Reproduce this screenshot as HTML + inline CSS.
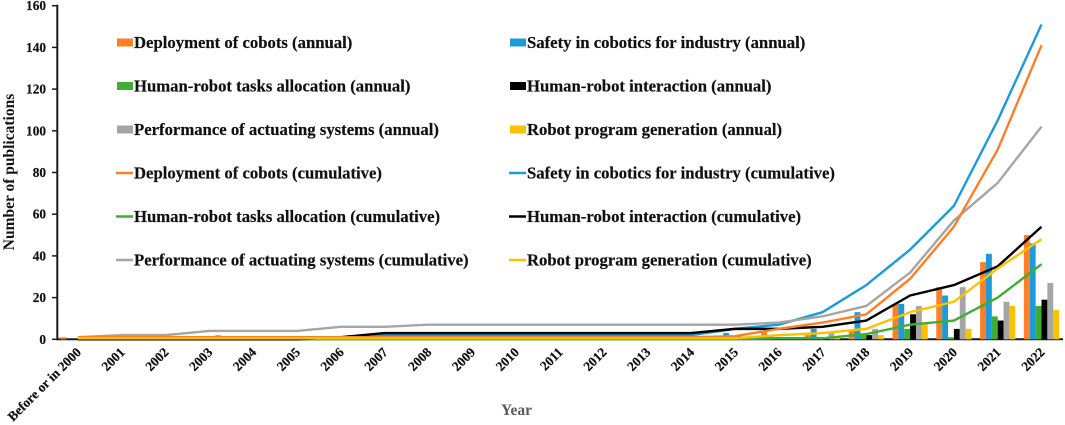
<!DOCTYPE html>
<html lang="en">
<head>
<meta charset="utf-8">
<title>Number of publications per year</title>
<style>
html,body{margin:0;padding:0;background:#fff;width:1065px;height:425px;overflow:hidden}
svg{display:block;filter:blur(0.3px)}
text{font-family:"Liberation Serif",serif;font-weight:bold;fill:#111}
.leg{font-size:16.7px;stroke:#111;stroke-width:.2px}
.tick{font-size:13.3px;stroke:#111;stroke-width:.2px}
</style>
</head>
<body>
<svg id="chart" width="1065" height="425" viewBox="0 0 1065 425" xmlns="http://www.w3.org/2000/svg">
<g id="axes"></g>
<g id="bars"></g>
<g id="lines"></g>
<text transform="translate(14,172) rotate(-90)" text-anchor="middle" style="font-size:15.5px">Number of publications</text>
<text x="516.5" y="415" text-anchor="middle" style="font-size:15.5px;fill:#595959">Year</text>

<g>
<g><rect x="117" y="38.5" width="16" height="8" fill="#FF7F27"/><text class="leg" x="134" y="48">Deployment of cobots (annual)</text></g>
<g><rect x="510" y="38.5" width="16" height="8" fill="#1C9BD8"/><text class="leg" x="527" y="48">Safety in cobotics for industry (annual)</text></g>
<g><rect x="117" y="82" width="16" height="8" fill="#3FAE35"/><text class="leg" x="134" y="91.5">Human-robot tasks allocation (annual)</text></g>
<g><rect x="510" y="82" width="16" height="8" fill="#000"/><text class="leg" x="527" y="91.5">Human-robot interaction (annual)</text></g>
<g><rect x="117" y="125.5" width="16" height="8" fill="#A5A5A5"/><text class="leg" x="134" y="135">Performance of actuating systems (annual)</text></g>
<g><rect x="510" y="125.5" width="16" height="8" fill="#FFC000"/><text class="leg" x="527" y="135">Robot program generation (annual)</text></g>
<g><line x1="116" x2="133" y1="173" y2="173" stroke="#FF7F27" stroke-width="2.4"/><text class="leg" x="134" y="178.5">Deployment of cobots (cumulative)</text></g>
<g><line x1="509" x2="526" y1="173" y2="173" stroke="#1C9BD8" stroke-width="2.4"/><text class="leg" x="527" y="178.5">Safety in cobotics for industry (cumulative)</text></g>
<g><line x1="116" x2="133" y1="216.5" y2="216.5" stroke="#3FAE35" stroke-width="2.4"/><text class="leg" x="134" y="222">Human-robot tasks allocation (cumulative)</text></g>
<g><line x1="509" x2="526" y1="216.5" y2="216.5" stroke="#000" stroke-width="2.4"/><text class="leg" x="527" y="222">Human-robot interaction (cumulative)</text></g>
<g><line x1="116" x2="133" y1="260" y2="260" stroke="#A5A5A5" stroke-width="2.4"/><text class="leg" x="134" y="265.5">Performance of actuating systems (cumulative)</text></g>
<g><line x1="509" x2="526" y1="260" y2="260" stroke="#FFC000" stroke-width="2.4"/><text class="leg" x="527" y="265.5">Robot program generation (cumulative)</text></g>
</g>
</svg>
<script>
const categories = ["Before or in 2000","2001","2002","2003","2004","2005","2006","2007","2008","2009","2010","2011","2012","2013","2014","2015","2016","2017","2018","2019","2020","2021","2022"];
const yTicks = [0,20,40,60,80,100,120,140,160];

const deploymentAnnual = [1,0,0,0,0,0,0,0,0,0,0,0,0,0,0,1,4,2,4,17,25,37,50];
const safetyAnnual     = [0,0,0,0,0,0,0,2,0,0,0,0,0,0,0,3,2,5,13,17,21,41,46];
const allocationAnnual = [0,0,0,0,0,0,0,0,0,0,0,0,0,0,0,0,1,1,2,5,1,11,16];
const interactionAnnual= [0,0,0,0,0,0,1,2,0,0,0,0,0,0,0,1.5,0,1,2,12,5,9,19];
const actuatingAnnual  = [0,1,0,2,0,0,2,0,1,0,0,0,0,0,0,0,1,3,5,16,25,18,27];
const programAnnual    = [0,0,0,0,0,0,0,0,0,0,0,0,0,0,0,0,1,1,2,8,5,16,14];

const deploymentCumulative = [1,1,1,1,1,1,1,1,1,1,1,1,1,1,1,1.5,5,8,12,29,54,91,141];
const safetyCumulative     = [0,0,0,0,0,0,0,2,2,2,2,2,2,2,2,5,7,13,26,43,64,105,151];
const allocationCumulative = [0,0,0,0,0,0,0,0,0,0,0,0,0,0,0,0,0.5,0.5,2.5,7,9,20,36];
const interactionCumulative= [0,0,0,0,0,0,1,3,3,3,3,3,3,3,3,5,5,6,9,21,26,35,54];
const actuatingCumulative  = [1,2,2,4,4,4,6,6,7,7,7,7,7,7,7,7,8,11,16,32,57,75,102];
const programCumulative    = [0.5,0.5,0.5,0.5,0.5,0.5,0.5,0.5,0.5,0.5,0.5,0.5,0.5,0.5,0.5,0.5,2,3,5,13,18,34,48];

const annualSeries = [deploymentAnnual,safetyAnnual,allocationAnnual,interactionAnnual,actuatingAnnual,programAnnual];
const cumulativeSeries = [safetyCumulative,allocationCumulative,interactionCumulative,actuatingCumulative,deploymentCumulative,programCumulative];
const seriesKeys = ["safety","allocation","interaction","actuating","deployment","program"];
const annualColors = ["#FF7F27","#1C9BD8","#3FAE35","#000000","#A5A5A5","#FFC000"];
const lineColors = ["#1C9BD8","#3FAE35","#000000","#A5A5A5","#FF7F27","#FFC000"];

const NS = "http://www.w3.org/2000/svg";
const plotLeft = 56, bandWidth = 43.8, plotRight = 1063, plotBottom = 339.3, pxPerUnit = 2.085, barWidth = 5.87;
const xCenter = i => plotLeft + bandWidth * (i + 0.5);
const yScale = v => plotBottom - v * pxPerUnit;

function make(tag, attrs, parent) {
  const el = document.createElementNS(NS, tag);
  for (const k in attrs) el.setAttribute(k, attrs[k]);
  parent.appendChild(el);
  return el;
}

const barsG = document.getElementById("bars");
annualSeries.forEach((vals, s) => {
  vals.forEach((v, i) => {
    if (!v) return;
    const bar = make("rect", {
      x: xCenter(i) - 3 * barWidth + s * barWidth,
      y: yScale(v),
      width: barWidth,
      height: plotBottom - yScale(v),
      fill: annualColors[s]
    }, barsG);
    
    
  });
});

const linesG = document.getElementById("lines");
cumulativeSeries.forEach((vals, s) => {
  const path = make("polyline", {
    points: vals.map((v, i) => xCenter(i) + "," + yScale(v)).join(" "),
    fill: "none",
    stroke: lineColors[s],
    "stroke-width": 2.4,
    "stroke-linejoin": "round",
    "data-series": seriesKeys[s]
  }, linesG);
  
  
});

const axesG = document.getElementById("axes");
const yAxis = make("line", {x1: 57.3, x2: 57.3, y1: yScale(160) - 1, y2: plotBottom + 1, stroke: "#1a1a1a", "stroke-width": 2}, axesG);


const xAxis = make("line", {x1: 57, x2: plotRight, y1: plotBottom, y2: plotBottom, stroke: "#1a1a1a", "stroke-width": 2}, axesG);



yTicks.forEach(t => {
  const mark = make("line", {x1: 52, x2: 57.3, y1: yScale(t), y2: yScale(t), stroke: "#1a1a1a", "stroke-width": 1.5}, axesG);
  
  
  const lab = make("text", {x: 46, y: yScale(t) + 4.5, "text-anchor": "end", class: "tick"}, axesG);
  
  
  lab.textContent = t;
});

categories.forEach((c, i) => {
  const px = xCenter(i) + 4, py = 353;
  const lab = make("text", {
    transform: "translate(" + px + "," + py + ") rotate(-45)",
    "text-anchor": "end",
    class: "tick"
  }, axesG);
  
  
  lab.textContent = c;
});
</script>
</body>
</html>
